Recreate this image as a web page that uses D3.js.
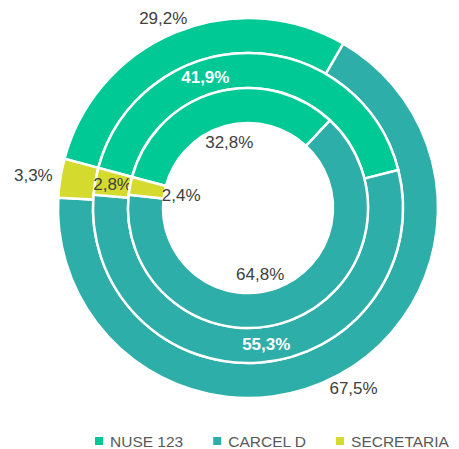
<!DOCTYPE html>
<html>
<head>
<meta charset="utf-8">
<script src="https://cdn.jsdelivr.net/npm/d3@7"></script>
<style>
  body { margin: 0; background: #fff; }
  svg { display: block; font-family: "Liberation Sans", Arial, sans-serif; }
</style>
</head>
<body>
<div id="chart"></div>
<script>
var width = 459;
var height = 449;

// data (one ring per list, outer -> inner)
var categories = ["NUSE 123", "CARCEL D", "SECRETARIA"];
var outerRing = [29.2, 67.5, 3.3];
var middleRing = [41.9, 55.3, 2.8];
var innerRing = [32.8, 64.8, 2.4];

var rings = [outerRing, middleRing, innerRing];

var colors = d3.scaleOrdinal()
    .domain(categories)
    .range(["#00c996", "#2daea9", "#d5db2e"]);

var svg = d3.select("#chart").append("svg")
    .attr("width", width)
    .attr("height", height);

var cx = 248, cy = 208;
var outerR = 190, holeR = 85;
var ringW = (outerR - holeR) / 3;

// first slice starts a bit above 9 o'clock
var startAngle = -75 * Math.PI / 180;

var pie = d3.pie()
    .sort(null)
    .value(function (d) { return d; })
    .startAngle(startAngle)
    .endAngle(startAngle + 2 * Math.PI);

var g = svg.append("g").attr("transform", "translate(" + cx + "," + cy + ")");

// small hand nudges of some labels (degrees), like in the original
var nudge = [[0, 0, 0], [-18.5, -3, 0], [0, 10, 0]];

rings.forEach(function (values, ri) {
    var r1 = outerR - ri * ringW;
    var r0 = r1 - ringW;
    var arc = d3.arc().innerRadius(r0).outerRadius(r1);
    var arcs = pie(values);

    g.append("g").selectAll("path")
        .data(arcs)
        .enter().append("path")
        .attr("d", arc)
        .attr("fill", function (d, i) { return colors(categories[i]); })
        .attr("stroke", "#fff")
        .attr("stroke-width", 2.5);

    arcs.forEach(function (d, i) {
        var a = (d.startAngle + d.endAngle) / 2 + nudge[ri][i] * Math.PI / 180;
        var label = d3.format(".1f")(d.data).replace(".", ",") + "%";
        var t = g.append("text")
            .text(label)
            .attr("font-size", 17)
            .attr("text-anchor", "middle")
            .attr("dominant-baseline", "central");
        var x, y;
        if (ri === 0) {
            // outside the outer ring
            var bb = t.node().getBBox();
            x = Math.sin(a) * (r1 + 8) + Math.sin(a) * bb.width / 2;
            y = -Math.cos(a) * (r1 + 8) - Math.cos(a) * 7;
            t.attr("fill", "#404040");
        } else if (ri === 1) {
            var rm = (r0 + r1) / 2;
            x = Math.sin(a) * rm;
            y = -Math.cos(a) * rm;
            if (i < 2) t.attr("fill", "#fff").attr("font-weight", "bold");
            else t.attr("fill", "#404040");
        } else {
            // inside the hole
            x = Math.sin(a) * 68;
            y = -Math.cos(a) * 68;
            t.attr("fill", "#404040");
        }
        t.attr("x", x).attr("y", y);
    });
});

// legend
var legend = svg.append("g").attr("transform", "translate(95,441)");
var lx = 0;
categories.forEach(function (c) {
    legend.append("rect")
        .attr("x", lx)
        .attr("y", -4)
        .attr("width", 8)
        .attr("height", 8)
        .attr("fill", colors(c));
    var t = legend.append("text")
        .attr("x", lx + 15)
        .attr("y", 0)
        .attr("dominant-baseline", "central")
        .attr("font-size", 15.5)
        .attr("fill", "#595959")
        .text(c);
    lx += 15 + t.node().getComputedTextLength() + 30;
});
</script>
</body>
</html>
